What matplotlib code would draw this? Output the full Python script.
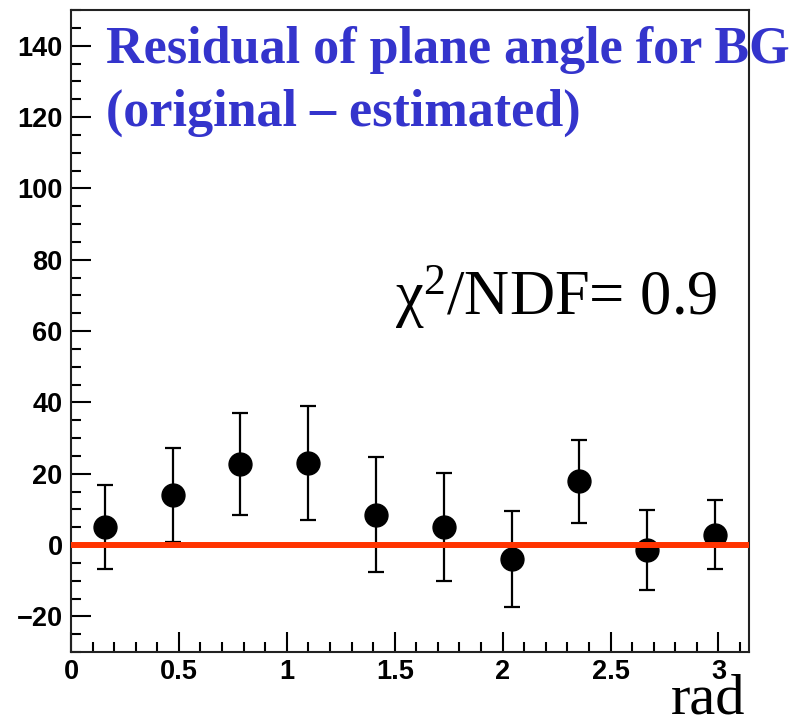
import matplotlib
matplotlib.use("Agg")
import matplotlib.pyplot as plt
from matplotlib.ticker import MultipleLocator

# residual per bin of the plane angle (rad), with statistical errors
bin_centers = [0.157, 0.471, 0.785, 1.100, 1.414, 1.728, 2.042, 2.356, 2.670, 2.985]
residuals = [5.0, 14.0, 22.7, 22.9, 8.5, 5.0, -3.9, 17.9, -1.4, 2.9]
errors = [11.8, 13.1, 14.2, 16.0, 16.2, 15.2, 13.4, 11.6, 11.2, 9.6]

fit_level = 0.0
chi2_ndf = 0.9

title_lines = ["Residual of plane angle for BG", "(original \u2013 estimated)"]

plt.rcParams["mathtext.fontset"] = "custom"
plt.rcParams["mathtext.rm"] = "Liberation Serif"
plt.rcParams["mathtext.it"] = "Liberation Serif:italic"

W, H = 809, 721
fig = plt.figure(figsize=(W / 100, H / 100), dpi=100)
ax = fig.add_axes([71 / W, 1 - 652 / H, (749 - 71) / W, (652 - 10) / H])

ax.errorbar(bin_centers, residuals, yerr=errors, fmt="o", color="black",
            ms=16.5, elinewidth=1.6, capsize=5.5, capthick=1.6, zorder=3)
ax.axhline(fit_level, color="#ff3300", lw=4.3, zorder=4)

ax.set_xlim(0, 3.1416)
ax.set_ylim(-30, 150)
ax.xaxis.set_major_locator(MultipleLocator(0.5))
ax.xaxis.set_minor_locator(MultipleLocator(0.1))
ax.yaxis.set_major_locator(MultipleLocator(20))
ax.yaxis.set_minor_locator(MultipleLocator(5))
ax.set_xticklabels([f"{v:g}" for v in ax.get_xticks()])

ax.tick_params(which="both", direction="in", top=False, right=False, width=1.5)
ax.tick_params(which="major", length=14.4)
ax.tick_params(which="minor", length=7.2)
ax.tick_params(axis="y", pad=6)
ax.tick_params(axis="x", pad=5)
for lab in ax.get_xticklabels() + ax.get_yticklabels():
    lab.set_fontfamily("Liberation Sans")
    lab.set_fontweight("bold")
    lab.set_fontsize(19.5)
for sp in ax.spines.values():
    sp.set_linewidth(1.5)
    sp.set_color("#222222")

# title in two lines, running past the right edge of the frame
fig.text(106 / W, 1 - 63 / H, title_lines[0], family="Liberation Serif",
         weight="bold", size=37.5, color="#3434cc", va="baseline")
fig.text(106 / W, 1 - 126 / H, title_lines[1], family="Liberation Serif",
         weight="bold", size=37.5, color="#3434cc", va="baseline")

fig.text(395 / W, 1 - 315 / H, f"\u03c7$^{{2}}$/NDF= {chi2_ndf}",
         family="Liberation Serif", size=45, color="black", va="baseline")
fig.text(745 / W, 1 - 714 / H, "rad", family="Liberation Serif",
         size=42, color="black", ha="right", va="baseline")

fig.savefig("out.png", dpi=100)
